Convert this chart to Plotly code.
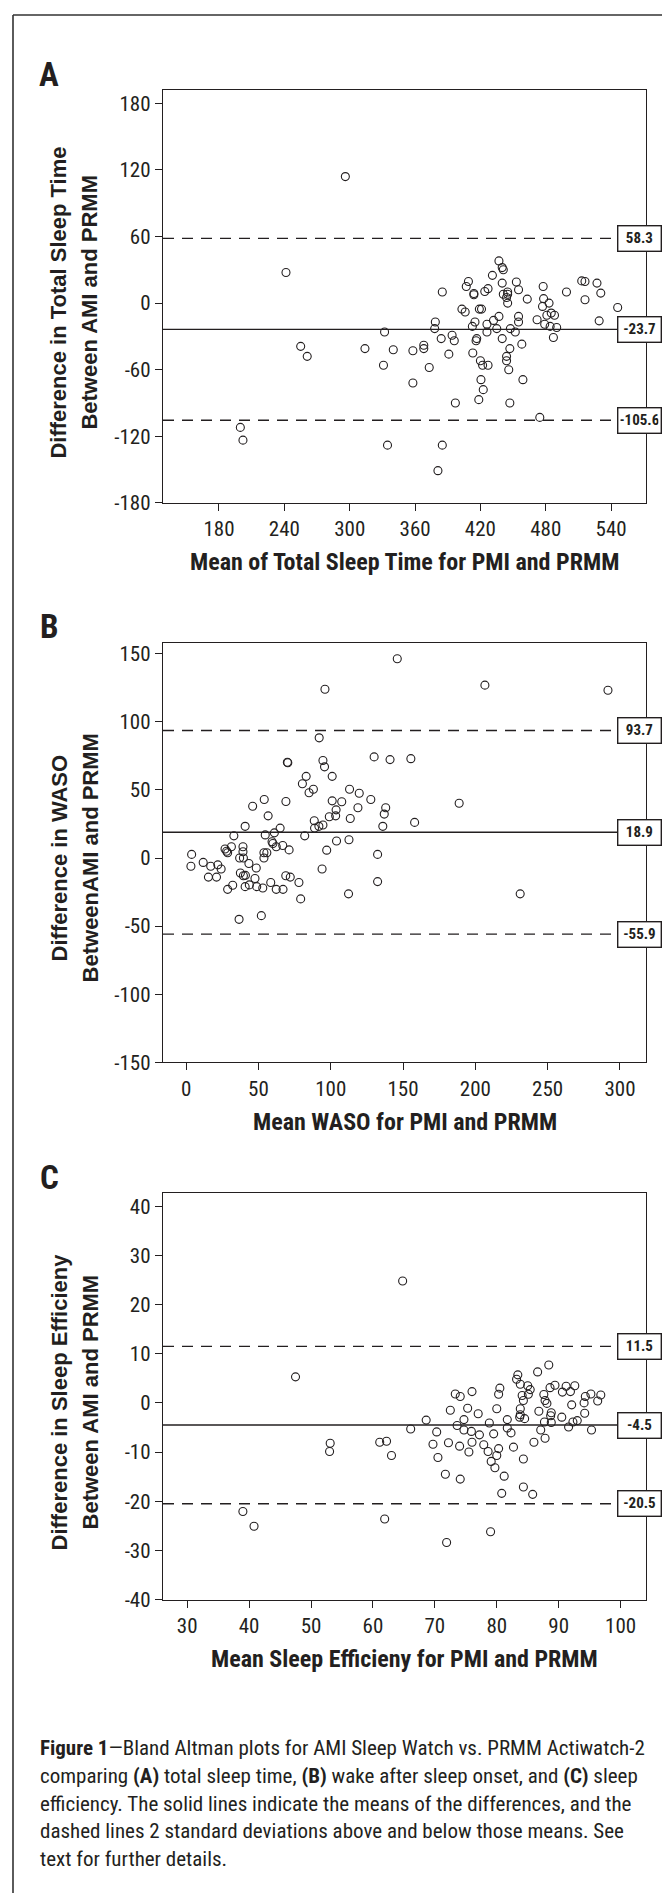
import plotly.graph_objects as go

# --- данные ---
# A: общее время сна (среднее PMI/PRMM против разницы AMI-PRMM)
tst_mean = [296, 241.5, 437, 440, 441, 431, 409, 407, 385, 414, 414, 424, 427, 440, 441, 445, 445, 444, 445,
            453, 455, 463, 477.6, 478, 483, 477, 481, 485, 488, 479, 484, 490, 487, 472, 499, 513, 516, 516,
            527, 530.5, 529, 546, 403, 406, 419, 421, 437, 432, 415, 426, 412.6, 435, 426, 447.5, 452, 455,
            455, 378.6, 378, 384, 394, 396, 416.6, 416, 440, 458, 447, 444, 444, 446, 413, 420, 422, 427, 391,
            373, 368, 368, 358, 358, 340, 332, 331, 314, 255, 261, 420.5, 422.6, 459, 418.5, 397, 447, 474.5,
            199.6, 202, 334.7, 385, 381]
tst_diff = [114, 27.6, 38, 32, 30, 25, 19.5, 15, 10, 8.7, 7.5, 10.5, 13, 18, 8, 10, 8, 5, 0,
            19, 12, 3.6, 15, 4, 0, -3, -11, -9, -11, -19, -21, -22, -31, -15, 10, 20, 19.5, 3,
            18, 9, -16, -4, -5.4, -8, -5.4, -5.4, -12, -15.6, -17, -19, -21, -23, -26, -23, -26, -12,
            -17, -17, -23, -32, -29, -34, -32, -34, -32, -37, -41, -48, -52, -60, -45, -52, -56, -56, -46,
            -58, -38, -41, -43, -72, -42, -26, -56, -41, -39, -48, -69, -78, -69, -87, -90, -90, -103,
            -112, -123.5, -128, -128, -151]
tst_limits = [58.3, -23.7, -105.6]
tst_limit_labels = ["58.3", "-23.7", "-105.6"]

# B: WASO
waso_mean = [146, 96, 206.6, 291.7, 92, 70, 70.3, 94.6, 95.7, 130, 141, 155.4, 83, 101, 80.4, 88, 85, 113,
             119.7, 127.7, 54, 46, 69, 101, 107.6, 188.8, 103.7, 118.8, 138, 137, 56.7, 99, 103.4, 113.5,
             88.6, 158, 40.8, 65, 88.8, 91.8, 94.6, 136, 33, 54.7, 61, 82, 104, 112.6, 59.4,
             3.8, 3.3, 11.8, 17, 21.9, 24.2, 15.4, 21, 26.9, 28, 28.7, 31.3, 39.3, 39.3, 37, 39.6, 43.4,
             48.5, 37.5, 39.6, 41, 47.6, 48.8, 40.8, 43.7, 32.2, 28.7, 53, 53.8, 55.8, 53.8, 60, 62.3, 66.8,
             71.2, 58.5, 62.3, 67, 68.9, 72, 78, 79.2, 97.2, 94, 132.4, 132.4, 112.3, 231, 36.6, 52]
waso_diff = [146.4, 124, 127, 123.3, 88.3, 70.4, 70.0, 71.6, 67, 74.3, 72.3, 73, 60, 60, 54.6, 50.5, 48, 50.5,
             47.6, 43, 43, 38, 41.5, 42, 41.3, 40.3, 35.4, 37, 37, 32.3, 31, 30.3, 31, 29,
             27.4, 26.2, 23.3, 22, 22, 23.3, 24.3, 23.3, 16.3, 17, 18.5, 16.3, 12.5, 13.5, 12,
             2.7, -6, -3.2, -6, -5, -8, -14, -14, 6.6, 5, 3.9, 8.3, 8.3, 4.6, 0, 0, -4,
             -7.3, -11, -13, -12.7, -15, -21, -21, -19.7, -20, -23, -22, 3.9, 3.9, 0, 10.7, 8.3, 9.2,
             6, -18, -23, -23, -13, -14, -18, -30, 5.8, -8, 2.7, -17.3, -26.3, -26.3, -45, -42.3]
waso_limits = [93.7, 18.9, -55.9]
waso_limit_labels = ["93.7", "18.9", "-55.9"]

# C: эффективность сна
se_mean = [64.8, 47.5, 88.4, 83.4, 83.2, 83.8, 85, 86.6, 85.4, 80.5, 80.3, 76, 73.3, 74.1, 84.1, 85.1, 84.3,
           87.6, 88.6, 89.4, 90.6, 91.2, 91.9, 92.6, 94.3, 95.2, 96.8, 96.3, 94.1, 92.1, 87.8, 88.1,
           72.5, 75.3, 80, 77, 83.8, 83.8, 83.7, 84.5, 86.8, 88.8, 88.7, 87.7, 88.8, 90.5, 91.6, 92.3, 93,
           94.2, 95.3, 87.1, 86, 87.8, 81.7, 81.7, 82.3, 78.8, 79.5, 77.9, 78.6, 80.3, 80, 79.1, 79.7, 82.7,
           81.2, 84.3, 80.8, 84.3, 85.8, 79, 74.7, 73.6, 74.7, 75.9, 77.2, 68.6, 66.1, 70.3, 69.7, 72.2, 74,
           76, 75.5, 70.5, 71.7, 74.1, 71.9, 61.1, 62.2, 63, 61.9, 53.1, 53, 39, 40.8]
se_diff = [24.8, 5.3, 7.7, 5.7, 4.8, 3.8, 3.5, 6.3, 2.7, 3, 1.75, 2.3, 1.8, 1.3, 1.5, 1.75, 0.5,
           1.7, 3.1, 3.6, 2.2, 3.4, 2.3, 3.5, 1.3, 1.8, 1.6, 0.4, 0, -0.4, 0.5, -0.1,
           -1.5, -1.1, -1.2, -2.2, -1.2, -2.4, -2.9, -3.2, -1.7, -2, -2.6, -3.9, -4, -2.9, -4.9, -3.9, -3.6,
           -2.1, -5.5, -5.5, -8, -7.2, -3.4, -5.1, -6.1, -4.1, -6.3, -8.5, -9.9, -9.3, -10.7, -11.9, -13.2, -9,
           -14.9, -11.4, -18.4, -17.1, -18.6, -26.2, -3.4, -4.6, -5.5, -5.8, -6.5, -3.5, -5.3, -5.9, -8.4, -8.1, -8.8,
           -8, -10, -11.1, -14.5, -15.5, -28.4, -8, -7.8, -10.7, -23.6, -8.2, -9.9, -22.1, -25.1]
se_limits = [11.5, -4.5, -20.5]
se_limit_labels = ["11.5", "-4.5", "-20.5"]

# подписи осей и делений
tst_xticks = [180, 240, 300, 360, 420, 480, 540]
tst_yticks = [-180, -120, -60, 0, 60, 120, 180]
waso_xticks = [0, 50, 100, 150, 200, 250, 300]
waso_yticks = [-150, -100, -50, 0, 50, 100, 150]
se_xticks = [30, 40, 50, 60, 70, 80, 90, 100]
se_yticks = [-40, -30, -20, -10, 0, 10, 20, 30, 40]

panel_letters = ["A", "B", "C"]
x_titles = ["Mean of Total Sleep Time for PMI and PRMM",
            "Mean WASO for PMI and PRMM",
            "Mean Sleep Efficieny for PMI and PRMM"]
y_titles = [["Difference in Total Sleep Time", "Between AMI and PRMM"],
            ["Difference in WASO", "BetweenAMI and PRMM"],
            ["Difference in Sleep Efficieny", "Between AMI and PRMM"]]
caption_lines = [
    "<b>Figure 1</b>—Bland Altman plots for AMI Sleep Watch vs. PRMM Actiwatch-2",
    "comparing <b>(A)</b> total sleep time, <b>(B)</b> wake after sleep onset, and <b>(C)</b> sleep",
    "efficiency. The solid lines indicate the means of the differences, and the",
    "dashed lines 2 standard deviations above and below those means. See",
    "text for further details.",
]

# --- оформление ---
W, H = 670, 1897
INK = '#231f20'
NARROW = 'Roboto Condensed, Liberation Sans Narrow, Arial Narrow, sans-serif'
BOLD = 'Liberation Sans, Arial, sans-serif'


def py(p):
    # пиксели сверху -> доля paper снизу
    return 1 - p / H


panels = [
    # x, y, xrange, yrange, xticks, yticks, limits, labels, top, bottom (px)
    (tst_mean, tst_diff, [128.6, 572], [-180, 191.6], tst_xticks, tst_yticks, tst_limits, tst_limit_labels, 83, 498),
    (waso_mean, waso_diff, [-16, 318], [-150, 158.2], waso_xticks, waso_yticks, waso_limits, waso_limit_labels, 638.7, 1061),
    (se_mean, se_diff, [26.1, 104.1], [-40, 42.6], se_xticks, se_yticks, se_limits, se_limit_labels, 1193, 1601.7),
]

x_left, x_right = 155, 638

fig = go.Figure()
layout = dict(width=W, height=H, margin=dict(l=0, r=0, t=0, b=0),
              paper_bgcolor='white', plot_bgcolor='white', showlegend=False)
shapes = []
annotations = []

for i, (xs, ys, xr, yr, xt, yt, lims, labs, top, bot) in enumerate(panels):
    n = '' if i == 0 else str(i + 1)
    fig.add_trace(go.Scatter(
        x=xs, y=ys, mode='markers', xaxis='x' + n, yaxis='y' + n,
        marker=dict(symbol='circle-open', size=8, color=INK, line=dict(width=1.1, color=INK)),
        hoverinfo='x+y'))

    axis_common = dict(showline=True, linecolor=INK, linewidth=1.4, mirror=True, showgrid=False,
                       zeroline=False, ticks='outside', ticklen=7, tickwidth=1.3, tickcolor=INK,
                       tickfont=dict(family=NARROW, size=21, color=INK))
    layout['xaxis' + n] = dict(axis_common, domain=[x_left / W, x_right / W], range=xr,
                               anchor='y' + n, tickvals=xt, ticktext=[str(v) for v in xt])
    layout['yaxis' + n] = dict(axis_common, domain=[py(bot), py(top)], range=yr,
                               anchor='x' + n, tickvals=yt, ticktext=[str(v) for v in yt])

    # верхняя граница, среднее, нижняя граница
    for j, lim in enumerate(lims):
        shapes.append(dict(type='line', xref='x' + n + ' domain', yref='y' + n,
                           x0=0, x1=1, y0=lim, y1=lim,
                           line=dict(color=INK, width=1.4, dash='solid' if j == 1 else '11px,8px')))
        annotations.append(dict(xref='paper', yref='y' + n, x=631.5 / W, y=lim,
                                text='<b>' + labs[j] + '</b>', showarrow=False,
                                font=dict(family=NARROW, size=15, color=INK),
                                bgcolor='white', bordercolor=INK, borderwidth=1.4,
                                borderpad=2, width=38, height=20,
                                xanchor='center', yanchor='middle'))

    # буква панели
    annotations.append(dict(xref='paper', yref='paper', x=41 / W, y=py(top - 16),
                            text='<b>' + panel_letters[i] + '</b>', showarrow=False,
                            font=dict(family=NARROW, size=33, color=INK),
                            xanchor='center', yanchor='middle'))
    # подпись оси x
    annotations.append(dict(xref='paper', yref='paper', x=(x_left + x_right) / 2 / W, y=py(bot + 60),
                            text='<b>' + x_titles[i] + '</b>', showarrow=False,
                            font=dict(family=NARROW, size=24, color=INK),
                            xanchor='center', yanchor='middle'))
    # подпись оси y, две строки отдельно
    for k, part in enumerate(y_titles[i]):
        annotations.append(dict(xref='paper', yref='paper', x=(51 + 31 * k) / W, y=py((top + bot) / 2 + 6),
                                text='<b>' + part + '</b>', showarrow=False, textangle=-90,
                                font=dict(family=BOLD, size=22, color=INK),
                                xanchor='center', yanchor='middle'))

# подпись к рисунку
for k, line in enumerate(caption_lines):
    annotations.append(dict(xref='paper', yref='paper', x=30 / W, y=py(1751 + k * 28),
                            text=line, showarrow=False, align='left',
                            font=dict(family=NARROW, size=21, color=INK),
                            xanchor='left', yanchor='middle'))

# рамка рисунка (видны только верх и левый край)
shapes.append(dict(type='line', xref='paper', yref='paper', x0=5 / W, x1=1, y0=py(7), y1=py(7),
                   line=dict(color='#333', width=1.6)))
shapes.append(dict(type='line', xref='paper', yref='paper', x0=5 / W, x1=5 / W, y0=py(7), y1=0,
                   line=dict(color='#333', width=1.6)))

layout['shapes'] = shapes
layout['annotations'] = annotations
fig.update_layout(**layout)

fig.write_html("out.html")
